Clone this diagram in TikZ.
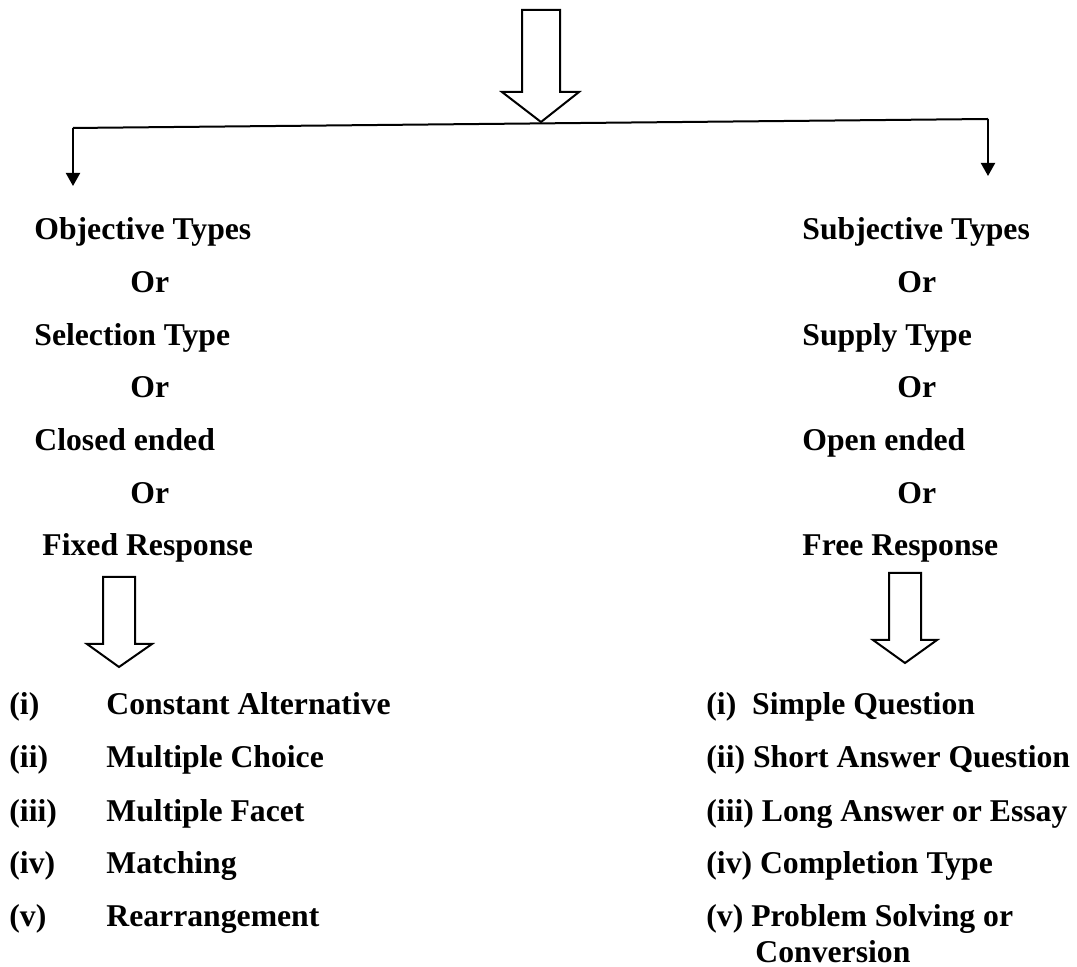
\documentclass[tikz,border=0pt]{standalone}
\usepackage{fontspec}
\setmainfont{Liberation Serif}
\usetikzlibrary{arrows.meta,positioning}

\begin{document}
\begin{tikzpicture}[
  x=0.5pt, y=-0.5pt,
  lbl/.style={anchor=base west, inner sep=0pt, font=\fontsize{15.85}{18.5}\selectfont\bfseries},
  blockarrow/.style={draw, line width=1pt, fill=white, line join=miter},
  branch/.style={line width=1pt, -{Triangle[length=6.5pt, width=7pt]}}
]
\useasboundingbox (0,0) rectangle (1077,967);
% arrow from the heading above
\draw[blockarrow] (522,10) -- (560,10) -- (560,92) -- (579,92) -- (541,122) -- (502,92) -- (522,92) -- cycle;
\coordinate (brL) at (73,128);
\coordinate (brR) at (988,119);
\coordinate (endL) at (73,186);
\coordinate (endR) at (988,176);
\draw[line width=1pt] (brL) -- (brR);
\draw[branch] (brL) -- (endL);
\draw[branch] (brR) -- (endR);
% left column
\node[lbl] (obj) at (34,240) {Objective Types};
\node[lbl] (orL1) at (130,293) {Or};
\node[lbl] (sel) at (34,346) {Selection Type};
\node[lbl] (orL2) at (130,398) {Or};
\node[lbl] (clo) at (34,451) {Closed ended};
\node[lbl] (orL3) at (130,504) {Or};
\node[lbl] (fix) at (42,556) {Fixed Response};
% right column
\node[lbl] (subj) at (802,240) {Subjective Types};
\node[lbl] (orR1) at (897,293) {Or};
\node[lbl] (sup) at (802,346) {Supply Type};
\node[lbl] (orR2) at (897,398) {Or};
\node[lbl] (ope) at (802,451) {Open ended};
\node[lbl] (orR3) at (897,504) {Or};
\node[lbl] (fre) at (802,556) {Free Response};
% block arrows
\draw[blockarrow] (103,577) -- (135,577) -- (135,644) -- (152,644) -- (119,667) -- (87,644) -- (103,644) -- cycle;
\draw[blockarrow] (889,573) -- (921,573) -- (921,640) -- (937,640) -- (905,663) -- (873,640) -- (889,640) -- cycle;
% objective items
\node[lbl] (n1) at (9,715) {(i)};
\node[lbl] (o1) at (106,715) {Constant Alternative};
\node[lbl] (n2) at (9,768) {(ii)};
\node[lbl] (o2) at (106,768) {Multiple Choice};
\node[lbl] (n3) at (9,821) {(iii)};
\node[lbl] (o3) at (106,821) {Multiple Facet};
\node[lbl] (n4) at (9,873) {(iv)};
\node[lbl] (o4) at (106,873) {Matching};
\node[lbl] (n5) at (9,926) {(v)};
\node[lbl] (o5) at (106,926) {Rearrangement};
% subjective items
\node[lbl] (s1) at (706,715) {(i)\ \ Simple Question};
\node[lbl] (s2) at (706,768) {(ii) Short Answer Question};
\node[lbl] (s3) at (706,821) {(iii) Long Answer or Essay};
\node[lbl] (s4) at (706,873) {(iv) Completion Type};
\node[lbl] (s5) at (706,926) {(v) Problem Solving or};
\node[lbl] (s5b) at (755,962) {Conversion};
\end{tikzpicture}
\end{document}
